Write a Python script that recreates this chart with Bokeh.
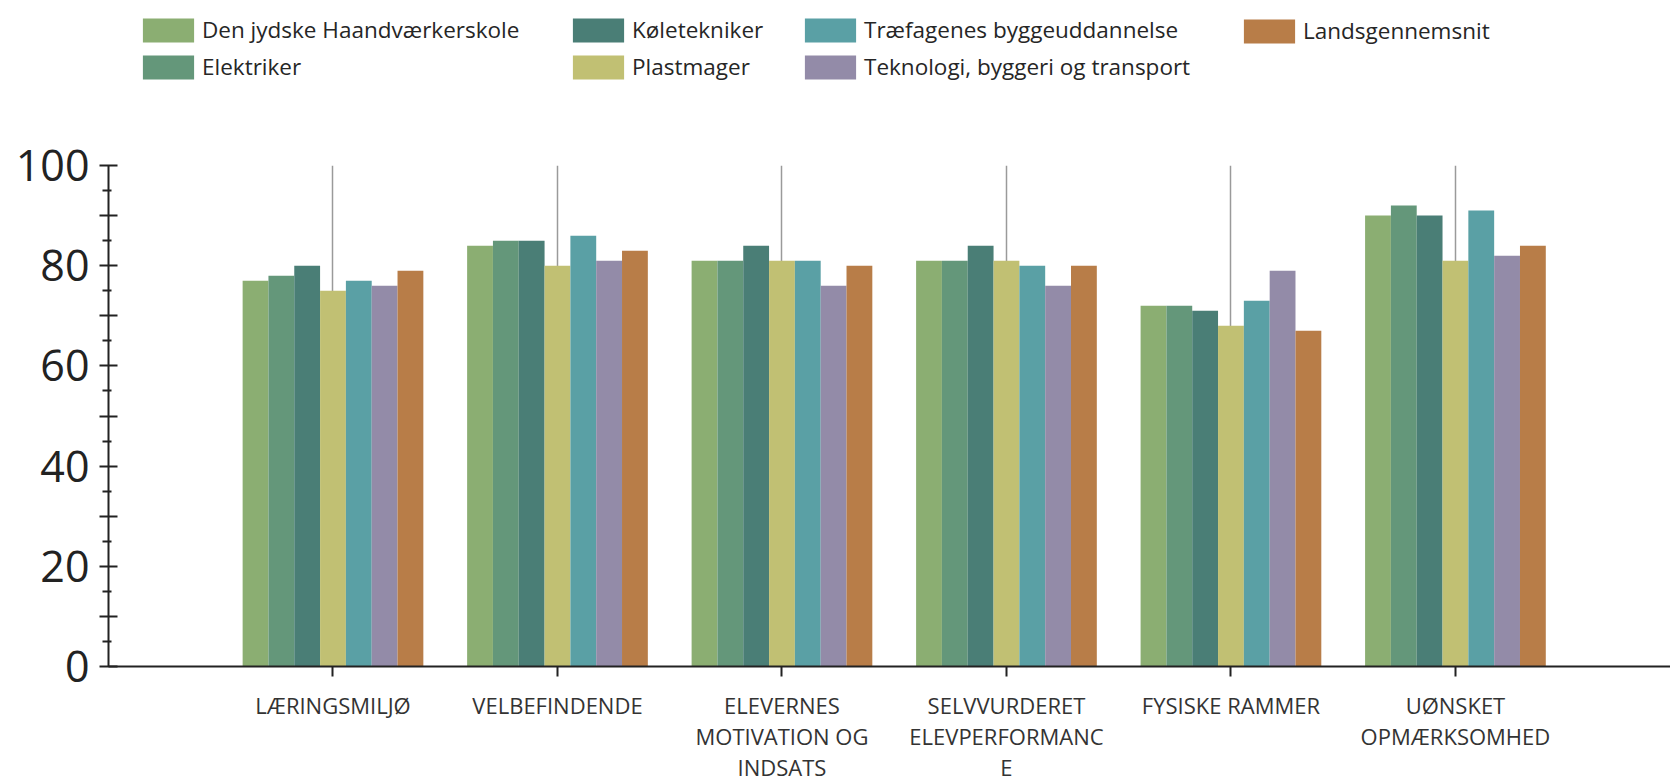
from bokeh.plotting import figure
from bokeh.models import (ColumnDataSource, FixedTicker, Legend, LegendItem, Range1d, LinearAxis)
from bokeh.layouts import column
from bokeh.embed import file_html
from bokeh.resources import INLINE

# ---- data ----
categories = ["LÆRINGSMILJØ", "VELBEFINDENDE", "ELEVERNES MOTIVATION OG INDSATS",
              "SELVVURDERET ELEVPERFORMANCE", "FYSISKE RAMMER", "UØNSKET OPMÆRKSOMHED"]
label_line1 = ["LÆRINGSMILJØ", "VELBEFINDENDE", "ELEVERNES", "SELVVURDERET", "FYSISKE RAMMER", "UØNSKET"]
label_line2 = ["", "", "MOTIVATION OG", "ELEVPERFORMANC", "", "OPMÆRKSOMHED"]
label_line3 = ["", "", "INDSATS", "E", "", ""]
series_names = ["Den jydske Haandværkerskole", "Elektriker", "Køletekniker", "Plastmager",
                "Træfagenes byggeuddannelse", "Teknologi, byggeri og transport", "Landsgennemsnit"]
den_jydske = [77, 84, 81, 81, 72, 90]
elektriker = [78, 85, 81, 81, 72, 92]
koletekniker = [80, 85, 84, 84, 71, 90]
plastmager = [75, 80, 81, 81, 68, 81]
traefagenes = [77, 86, 81, 80, 73, 91]
teknologi = [76, 81, 76, 76, 79, 82]
landsgennemsnit = [79, 83, 80, 80, 67, 84]
series_values = [den_jydske, elektriker, koletekniker, plastmager, traefagenes, teknologi, landsgennemsnit]
colors = ["#8BAE72", "#64977A", "#4A7E76", "#C1C073", "#5AA0A5", "#938BA8", "#B87D48"]
y_ticks = [0, 10, 20, 30, 40, 50, 60, 70, 80, 90, 100]
y_minor = [5, 15, 25, 35, 45, 55, 65, 75, 85, 95]

FONT = "Open Sans"
W = 1670
n = len(series_names)
bw = 0.115
cat_pos = [i + 1 for i in range(len(categories))]

sources = []
for j, vals in enumerate(series_values):
    xs = [c + (j - (n - 1) / 2) * bw for c in cat_pos]
    sources.append(ColumnDataSource(dict(x=xs, top=vals)))

# ---- legend strip (separate figure on top; its bars lie far outside its view) ----
pl = figure(width=W, height=100, output_backend="svg", toolbar_location=None,
            x_range=Range1d(-100, -99), y_range=Range1d(-2, -1),
            x_axis_location=None, y_axis_location=None,
            min_border_left=108, min_border_right=0, min_border_top=0, min_border_bottom=0)
pl.outline_line_color = None
pl.grid.visible = False
leg_renderers = [pl.vbar(x="x", top="top", width=bw, bottom=0, source=s,
                         fill_color=c, line_color=None) for s, c in zip(sources, colors)]

columns_spec = [([0, 1], (28, 18)), ([2, 3], (458, 18)), ([4, 5], (690, 18)), ([6], (1129, 54))]
for idxs, loc in columns_spec:
    items = [LegendItem(label=series_names[k], renderers=[leg_renderers[k]]) for k in idxs]
    lg = Legend(items=items, location=loc, orientation="vertical",
                glyph_width=64, glyph_height=30, label_standoff=2, spacing=6,
                label_height=30, padding=0, margin=0, border_line_color=None,
                background_fill_alpha=0, label_text_font=FONT,
                label_text_font_size="22.5px", label_text_color="#262626")
    pl.add_layout(lg, "center")

# ---- main chart ----
p = figure(width=W, height=684, output_backend="svg", toolbar_location=None,
           x_range=Range1d(0, 6.958), y_range=Range1d(0, 100),
           min_border_left=108, min_border_right=0, min_border_top=65, min_border_bottom=0)
p.outline_line_color = None

p.xgrid.ticker = FixedTicker(ticks=cat_pos)
p.xgrid.grid_line_color = "#9a9a9a"
p.xgrid.grid_line_width = 1.5
p.ygrid.ticker = FixedTicker(ticks=[100])
p.ygrid.grid_line_color = "#cccccc"
p.ygrid.grid_line_width = 2.5

for s, col in zip(sources, colors):
    p.vbar(x="x", top="top", width=bw, bottom=0, source=s, fill_color=col, line_color=None)

def style_labels(ax):
    ax.major_label_text_font = FONT
    ax.major_label_text_font_size = "22px"
    ax.major_label_text_color = "#333333"

xa = p.xaxis[0]
xa.ticker = FixedTicker(ticks=cat_pos)
xa.major_label_overrides = {c: t for c, t in zip(cat_pos, label_line1)}
style_labels(xa)
xa.major_label_standoff = 13
xa.major_tick_in = 0
xa.major_tick_out = 10
xa.major_tick_line_width = 2
xa.major_tick_line_color = "#222222"
xa.minor_tick_line_color = None
xa.axis_line_width = 2
xa.axis_line_color = "#222222"

for lines in (label_line2, label_line3):
    ax = LinearAxis(ticker=FixedTicker(ticks=cat_pos),
                    major_label_overrides={c: t for c, t in zip(cat_pos, lines)})
    style_labels(ax)
    ax.major_label_standoff = -2
    ax.major_tick_in = 0
    ax.major_tick_out = 0
    ax.major_tick_line_color = None
    ax.minor_tick_line_color = None
    ax.axis_line_color = None
    p.add_layout(ax, "below")

ya = p.yaxis[0]
ya.ticker = FixedTicker(ticks=y_ticks, minor_ticks=y_minor)
ya.major_label_overrides = {t: ("" if t % 20 else str(t)) for t in y_ticks}
ya.major_label_text_font = FONT
ya.major_label_text_font_size = "43px"
ya.major_label_text_color = "#222222"
ya.major_label_standoff = 10
ya.major_tick_in = 9
ya.major_tick_out = 9
ya.major_tick_line_width = 2
ya.major_tick_line_color = "#222222"
ya.minor_tick_in = 3
ya.minor_tick_out = 6
ya.minor_tick_line_width = 2
ya.minor_tick_line_color = "#222222"
ya.axis_line_width = 2
ya.axis_line_color = "#222222"

layout = column(pl, p, spacing=0)
open("out.html", "w").write(file_html(layout, INLINE))
